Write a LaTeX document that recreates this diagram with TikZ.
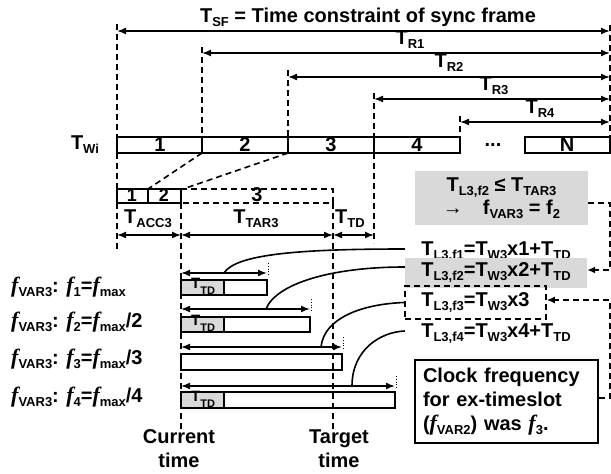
\documentclass[tikz,border=0pt]{standalone}
\usepackage{fontspec}
\setmainfont{Liberation Sans}
\newfontfamily\serifbi{Liberation Serif}
\usetikzlibrary{arrows.meta,calc}
\newcommand\sbs[1]{\raisebox{-4pt}{\fontsize{13}{13}\selectfont #1}}
\newcommand\fit{{\serifbi\bfseries\itshape\fontsize{22}{24}\selectfont f}}
\newcommand\tdlab{T\raisebox{-6pt}{\fontsize{11}{11}\selectfont TD}}
\begin{document}
\begin{tikzpicture}[x=1pt,y=-1pt,
  every node/.style={font=\bfseries\fontsize{20}{24}\selectfont, inner sep=0pt},
  ln/.style={line width=1.6pt},
  dsh/.style={line width=1.6pt, dash pattern=on 6pt off 4pt},
  arr/.style={line width=1.6pt, {Latex[length=9pt,width=7pt]}-{Latex[length=9pt,width=7pt]}},
  fb/.style={line width=1.6pt, dash pattern=on 6pt off 4pt, -{Latex[length=8pt,width=7pt]}},
  tick/.style={line width=0.8pt, dotted},
  graybox/.style={fill=black!15},
  small/.style={font=\bfseries\fontsize{15}{15}\selectfont},
  boxnum/.style={font=\bfseries\fontsize{18}{18}\selectfont}]
\useasboundingbox (0,0) rectangle (611,474);

% title and big arrows
\node (title) at (368,17) {T\sbs{SF} = Time constraint of sync frame};
\draw[arr] (117,31) -- (610,31);
\draw[arr] (202,53) -- (610,53);
\draw[arr] (288,77) -- (610,77);
\draw[arr] (374,99) -- (610,99);
\draw[arr] (460,122) -- (610,122);
\node (tr1) at (410,40) {T\sbs{R1}};
\node (tr2) at (449,63) {T\sbs{R2}};
\node (tr3) at (494,86) {T\sbs{R3}};
\node (tr4) at (540,109) {T\sbs{R4}};

% vertical dashed guides (top)
\draw[dsh] (117,24) -- (117,137);
\draw[dsh] (117,153) -- (117,189);
\draw[dsh] (117,203) -- (117,252);
\draw[dsh] (202,47) -- (202,137);
\draw[dsh] (288,70) -- (288,137);
\draw[dsh] (374,93) -- (374,137);
\draw[dsh] (374,153) -- (374,243);
\draw[dsh] (460,116) -- (460,137);
\draw[dsh] (610,25) -- (610,137);

% main slot row
\node (twi) at (85,145) {T\sbs{Wi}};
\draw[ln] (117,137) rectangle (460,153);
\draw[ln] (202,137) -- (202,153);
\draw[ln] (288,137) -- (288,153);
\draw[ln] (374,137) -- (374,153);
\draw[ln] (525,137) rectangle (610,153);
\node (s1) at (160,145) {1};
\node (s2) at (245,145) {2};
\node (s3) at (331,145) {3};
\node (s4) at (417,145) {4};
\node (dots) at (493,145) {...};
\node (sn) at (567,145) {N};

% zoom lines
\draw[dsh] (202,153) -- (148,189);
\draw[dsh] (288,153) -- (183,189);

% sub row
\draw[ln] (117,189) rectangle (181,203);
\draw[ln] (148,189) -- (148,203);
\node[boxnum] (b1) at (132,195) {1};
\node[boxnum] (b2) at (164,195) {2};
\draw[dsh] (181,189) -- (333,189) -- (333,203) -- (181,203);
\node (b3) at (257,195) {3};

\node (tacc) at (148,219) {T\sbs{ACC3}};
\node (ttar) at (256,219) {T\sbs{TAR3}};
\node (ttd) at (350,219) {T\sbs{TD}};
\draw[arr] (117,235) -- (181,235);
\draw[arr] (181,235) -- (333,235);
\draw[arr] (333,235) -- (374,235);

% current / target guides
\draw[dsh] (181,203) -- (181,430);
\draw[dsh] (333,203) -- (333,430);
\node[align=center] (cur) at (179,449) {Current\\time};
\node[align=center] (tgt) at (339,449) {Target\\time};

% left labels
\node[anchor=west] (l1) at (11,287) {\fit\sbs{VAR3}: \fit\sbs{1}=\fit\sbs{max}};
\node[anchor=west] (l2) at (11,322) {\fit\sbs{VAR3}: \fit\sbs{2}=\fit\sbs{max}/2};
\node[anchor=west] (l3) at (11,359) {\fit\sbs{VAR3}: \fit\sbs{3}=\fit\sbs{max}/3};
\node[anchor=west] (l4) at (11,397) {\fit\sbs{VAR3}: \fit\sbs{4}=\fit\sbs{max}/4};

% bars
\fill[graybox] (181,280) rectangle (224,295);
\fill[graybox] (181,317) rectangle (224,332);
\fill[graybox] (181,392) rectangle (224,408);
\draw[ln] (181,280) rectangle (267,295);
\draw[ln] (224,280) -- (224,295);
\draw[ln] (181,317) rectangle (310,332);
\draw[ln] (224,317) -- (224,332);
\draw[ln] (181,354) rectangle (342,370);
\draw[ln] (181,392) rectangle (395,408);
\draw[ln] (224,392) -- (224,408);
\node[small,anchor=west] (td1) at (191,286) {\tdlab};
\node[small,anchor=west] (td2) at (191,323) {\tdlab};
\node[small,anchor=west] (td4) at (191,399) {\tdlab};

\draw[arr] (181,273) -- (267,273);
\draw[arr] (181,309) -- (310,309);
\draw[arr] (181,347) -- (342,347);
\draw[arr] (181,386) -- (395,386);
\draw[tick] (268,263) -- (268,276);
\draw[tick] (311,299) -- (311,312);
\draw[tick] (343,337) -- (343,350);
\draw[tick] (396,376) -- (396,389);

\coordinate (c1) at (224,273);
\coordinate (c2) at (266,309);
\coordinate (c3) at (321,347);
\coordinate (c4) at (352,386);

% formulas
\node[graybox, minimum width=173pt, minimum height=54pt, align=center] (cond) at (501.5,198)
  {T\sbs{L3,f2} ≤ T\sbs{TAR3}\\[-1pt]→\quad f\sbs{VAR3} = f\sbs{2}};
\node[minimum width=182pt] (lf1) at (496,252) {T\sbs{L3,f1}=T\sbs{W3}x1+T\sbs{TD}};
\node[graybox, minimum width=182pt, minimum height=30pt] (lf2) at (496,273) {T\sbs{L3,f2}=T\sbs{W3}x2+T\sbs{TD}};
\node[draw, dsh, minimum width=141pt, minimum height=33pt] (lf3) at (475.5,302.5) {T\sbs{L3,f3}=T\sbs{W3}x3};
\node[minimum width=182pt] (lf4) at (496,334) {T\sbs{L3,f4}=T\sbs{W3}x4+T\sbs{TD}};
\node[draw, ln, minimum width=183pt, minimum height=83pt, text width=167pt, align=left] (clk) at (506.5,401.5)
  {Clock frequency\\for ex-timeslot\\(\fit\sbs{VAR2}) was \fit\sbs{3}.};

% curves
\draw[ln] (c1) .. controls (236,254) and (300,249) .. ($(lf1.west)+(0,-3)$);
\draw[ln] (c2) .. controls (276,284) and (330,267) .. (lf2.west |- 0,267);
\draw[ln] (c3) .. controls (324,318) and (362,304) .. (lf3.west);
\draw[ln] (c4) .. controls (352,350) and (380,332) .. ($(lf4.west)+(0,-3)$);

% feedback
\draw[fb] (cond.east |- 0,203) -- (610,203) -- (610,270) -- (lf2.east |- 0,270);
\draw[fb] (clk.east |- 0,398) -- (610,398) -- (610,300) -- (lf3.east |- 0,300);
\end{tikzpicture}
\end{document}
